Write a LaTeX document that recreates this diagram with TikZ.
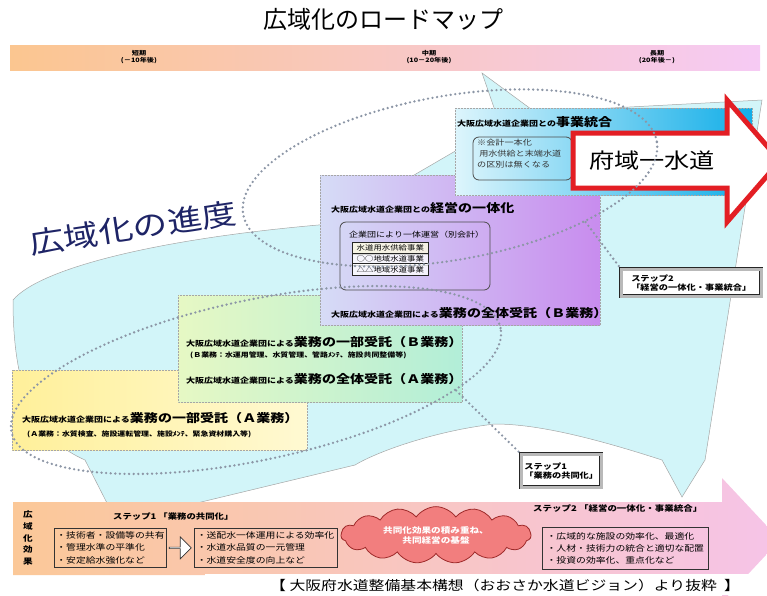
\documentclass[tikz,border=0pt]{standalone}
\usepackage{fontspec}
\setmainfont{Noto Sans CJK JP}[FakeStretch=1.2]
\newfontfamily\titlefont{Noto Sans CJK JP}
\usetikzlibrary{positioning,shapes.geometric,shapes.symbols,shapes.arrows}
\definecolor{HeadOrange}{HTML}{FBC690}
\definecolor{HeadPink}{HTML}{F6CAF4}
\definecolor{SwooshCyan}{HTML}{D2F5F9}
\definecolor{YellowL}{HTML}{FFF09A}
\definecolor{YellowR}{HTML}{FFF9D2}
\definecolor{GreenL}{HTML}{E6F8C4}
\definecolor{GreenR}{HTML}{B2EED8}
\definecolor{PurpleL}{HTML}{D6DCF6}
\definecolor{PurpleR}{HTML}{C88CEE}
\definecolor{BlueL}{HTML}{DDF5FC}
\definecolor{BlueR}{HTML}{12AEE8}
\definecolor{RoadRed}{HTML}{E31E24}
\definecolor{RingGray}{HTML}{8C96A6}
\definecolor{NavyText}{HTML}{1E2466}
\definecolor{BarOrange}{HTML}{FBC898}
\definecolor{BarPink}{HTML}{F6C4E8}
\definecolor{CloudRed}{HTML}{F27E7E}
\definecolor{CloudEdge}{HTML}{9E2A2A}
\newcommand{\leadtxt}[1]{{\fontsize{7.5}{9}\selectfont\bfseries #1}}
\newcommand{\keytxt}[1]{{\fontsize{11.7}{13}\selectfont\bfseries #1}}

\begin{document}
\begin{tikzpicture}[x=1pt,y=-1pt,
    every node/.style={inner sep=0pt},
    stage/.style={draw=gray!70, densely dotted, line width=0.5pt},
    plaque/.style={draw=black!70, rounded corners=6pt, line width=0.8pt},
    ring/.style={ellipse, draw=RingGray, line width=2.6pt, line cap=round, dash pattern=on 0pt off 4.6pt},
    ringline/.style={draw=RingGray, line width=2.6pt, line cap=round, dash pattern=on 0pt off 4.6pt},
    stepbox/.style={draw=black!85, double=gray!55, double distance=3pt, line width=0.6pt, fill=white,
      align=left, inner xsep=3pt, anchor=north west, font=\bfseries\fontsize{7.7}{9.5}\selectfont},
    unitbox/.style={draw=black!85, line width=0.6pt, fill=white, fill opacity=0.8, text opacity=1,
      minimum width=76, minimum height=12, anchor=north west, font=\fontsize{7}{8}\selectfont},
    effectbox/.style={draw=black!80, line width=0.7pt, align=left, inner xsep=2pt, anchor=north west,
      minimum height=39, font=\fontsize{8.2}{12.3}\selectfont},
    periodlabel/.style={align=center, font=\bfseries\fontsize{6}{7}\selectfont},
  ]
\useasboundingbox (0,0) rectangle (767,595);

% title and period bar
\node[font=\titlefont\fontsize{24}{26}\selectfont] (title) at (383,19) {広域化のロードマップ};
\shade[left color=HeadOrange, right color=HeadPink] (10,45) rectangle (760,70);
\node[periodlabel] (shortterm) at (139,57.5) {短期\\(－10年後)};
\node[periodlabel] (midterm) at (429,57.5) {中期\\(10－20年後)};
\node[periodlabel] (longterm) at (657,57.5) {長期\\(20年後－)};

% progress swoosh
\filldraw[fill=SwooshCyan, draw=gray!70, line width=0.5pt]
  (13,300) .. controls (40,268) and (160,238) .. (330,224)
  -- (500,125) -- (482,73) -- (535,112) -- (762,100)
  -- (705,460) -- (682,497) -- (662,460)
  .. controls (600,440) and (540,424) .. (495,424)
  .. controls (440,430) and (380,450) .. (355,465)
  -- (197,503) -- (107,503) -- (85,460)
  .. controls (40,440) and (13,400) .. cycle;
\node[font=\fontsize{29}{31}\selectfont, text=NavyText, rotate=8.5] (progress) at (133,228) {広域化の進度};

% stage A
\shade[left color=YellowL, right color=YellowR] (12,370) rectangle (307,450);
\draw[stage] (12,370) rectangle (307,450);
\node[anchor=west] (apart) at (22,418) {\leadtxt{大阪広域水道企業団による}\keytxt{業務の一部受託（Ａ業務）}};
\node[anchor=west, font=\bfseries\fontsize{6.6}{8}\selectfont] (adetail) at (27,434) {(Ａ業務：水質検査、施設運転管理、施設ﾒﾝﾃ、緊急資材購入等)};

% stage B
\shade[left color=GreenL, right color=GreenR] (178,295) rectangle (462,402);
\draw[stage] (178,295) rectangle (462,402);
\node[anchor=west] (bpart) at (186,342) {\leadtxt{大阪広域水道企業団による}\keytxt{業務の一部受託（Ｂ業務）}};
\node[anchor=west, font=\bfseries\fontsize{6.6}{8}\selectfont] (bdetail) at (190,355) {(Ｂ業務：水運用管理、水質管理、管路ﾒﾝﾃ、施設共同整備等)};
\node[anchor=west] (afull) at (186,379) {\leadtxt{大阪広域水道企業団による}\keytxt{業務の全体受託（Ａ業務）}};

% stage management
\shade[left color=PurpleL, right color=PurpleR] (320,175) rectangle (600,325);
\draw[stage] (320,175) rectangle (600,325);
\node[anchor=west] (mgmt) at (331,208) {\leadtxt{大阪広域水道企業団との}\keytxt{経営の一体化}};
\draw[plaque] (340,222) rectangle (490,290);
\node[anchor=west, font=\fontsize{7.5}{9}\selectfont] (joint) at (349,235) {企業団により一体運営（別会計）};
\node[unitbox, fill=yellow!12] (unitbulk) at (352,242) {水道用水供給事業};
\node[unitbox, below=2 of unitbulk] (unitcirc) {○○地域水道事業};
\node[unitbox, below=2 of unitcirc] (unittri) {△△地域水道事業};
\node[anchor=west] (bfull) at (331,313) {\leadtxt{大阪広域水道企業団による}\keytxt{業務の全体受託（Ｂ業務）}};

% stage integration
\shade[left color=BlueL, right color=BlueR] (455,108) rectangle (752,195);
\draw[stage] (455,108) rectangle (752,195);
\node[anchor=west] (merge) at (457,122) {\leadtxt{大阪広域水道企業団との}\keytxt{事業統合}};
\draw[plaque] (473,137) rectangle (572,180);
\node[anchor=north west, align=left, font=\fontsize{7.6}{11}\selectfont, text=black!80] (mergenote) at (477,139)
  {※会計一本化\\\ 用水供給と末端水道\\の区別は無くなる};

% one water supply arrow
\filldraw[fill=white, draw=RoadRed, line width=5pt, miter limit=20]
  (573,133) -- (727,133) -- (727,100) -- (780,161) -- (727,222) -- (727,188) -- (573,188) -- cycle;
\node[font=\fontsize{21}{23}\selectfont] (onewater) at (652,161) {府域一水道};

% step rings
\node[ring, minimum width=420, minimum height=164, rotate=10] (ringtwo) at (450,178) {};
\node[ring, minimum width=500, minimum height=160, rotate=12] (ringone) at (256,380) {};
\node[stepbox, minimum width=140, minimum height=27] (steptwo) at (621,269) {ステップ2\\「経営の一体化・事業統合」};
\node[stepbox, minimum width=78, minimum height=33] (stepone) at (521,454) {ステップ1\\「業務の共同化」};
\draw[ringline] (ringtwo.-28) -- (steptwo.north west);
\draw[ringline] (ringone.-15) -- (stepone.north west);

% effect bar
\shade[left color=BarOrange, right color=BarPink]
  (13,502) -- (722,502) -- (722,478) -- (780,540) -- (722,602) -- (722,575) -- (13,575) -- cycle;
\node[align=center, font=\bfseries\fontsize{8}{11.7}\selectfont] (effect) at (28,538) {広\\域\\化\\効\\果};
\node[anchor=west, font=\bfseries\fontsize{7.8}{9}\selectfont] (steponehead) at (113,517) {ステップ1\ 「業務の共同化」};
\node[effectbox, minimum width=112] (sharing) at (54,528) {・技術者・設備等の共有\\・管理水準の平準化\\・安定給水強化など};
\node[single arrow, draw=black!80, fill=white, line width=0.6pt, minimum width=22, minimum height=22,
  single arrow head extend=4, right=2 of sharing] (gain) {};
\node[effectbox, minimum width=143, right=2 of gain] (unified) {・送配水一体運用による効率化\\・水道水品質の一元管理\\・水道安全度の向上など};
\node[cloud, cloud puffs=15, cloud puff arc=110, aspect=3.6, fill=CloudRed, draw=CloudEdge, line width=0.8pt,
  minimum width=190, minimum height=52, align=center, text=white,
  font=\bfseries\fontsize{8}{10}\selectfont] (basecloud) at (436,535) {共同化効果の積み重ね、\\共同経営の基盤};
\node[anchor=west, font=\bfseries\fontsize{7.9}{9}\selectfont] (steptwohead) at (533,508) {ステップ2\ 「経営の一体化・事業統合」};
\node[effectbox, minimum width=166, minimum height=42] (optimal) at (542,527) {・広域的な施設の効率化、最適化\\・人材・技術力の統合と適切な配置\\・投資の効率化、重点化など};

% source
\fill[white] (205,574) rectangle (767,595);
\node[font=\fontsize{13.2}{15}\selectfont] (source) at (505,585) {【\ 大阪府水道整備基本構想（おおさか水道ビジョン）より抜粋\ \ 】};
\end{tikzpicture}
\end{document}
